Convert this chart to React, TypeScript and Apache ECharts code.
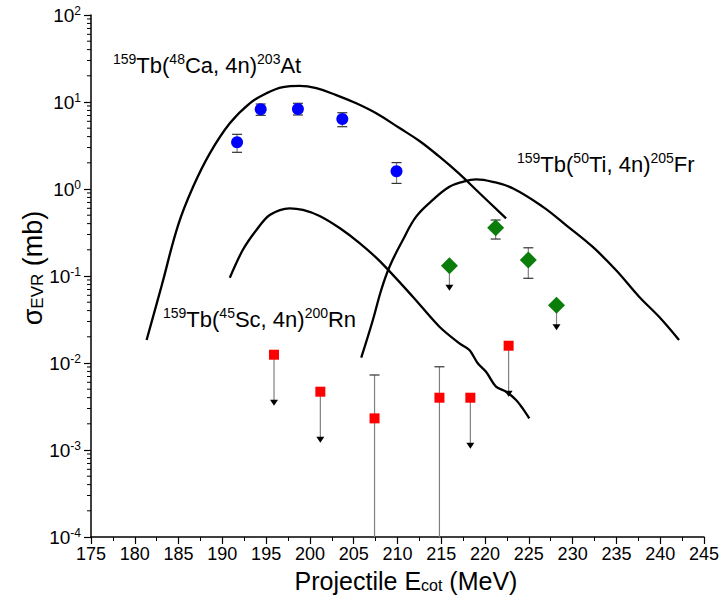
import React, { useEffect, useRef } from 'react';
import * as echarts from 'echarts';

// ---- theory curves ----
const caCurveE = [181.35, 183.09, 184.95, 186.66, 188.57, 190.85, 193.13, 195.03, 196.92, 198.83, 200.73, 203.01, 205.29, 207.57, 210.23, 212.51, 214.79, 217.07, 219.35, 222.40];
const caCurveV = [0.0184, 0.0789, 0.385, 1.06, 2.57, 5.69, 9.66, 12.6, 14.8, 15.3, 14.4, 12.0, 9.66, 7.41, 5.02, 3.56, 2.35, 1.49, 0.899, 0.460];

const scCurveE = [190.85, 192.33, 193.89, 195.41, 197.69, 199.20, 201.11, 203.39, 205.67, 207.95, 211.75, 214.79, 217.07, 218.21, 219.16, 220.11, 221.25, 222.40, 223.54, 224.29, 225.05];
const scCurveV = [0.0955, 0.199, 0.338, 0.502, 0.600, 0.574, 0.490, 0.356, 0.239, 0.149, 0.0578, 0.0261, 0.0168, 0.0141, 0.00993, 0.00794, 0.00535, 0.00468, 0.00376, 0.00301, 0.00231];

const tiCurveE = [205.86, 207.19, 208.14, 209.09, 210.61, 212.13, 214.03, 215.93, 217.45, 218.97, 220.87, 223.15, 226.57, 229.24, 232.27, 234.94, 237.59, 239.87, 242.15];
const tiCurveV = [0.0115, 0.0312, 0.0690, 0.128, 0.259, 0.481, 0.748, 1.06, 1.21, 1.29, 1.21, 1.02, 0.627, 0.385, 0.217, 0.117, 0.0578, 0.0340, 0.0184];

// ---- measured points ----
const caE = [191.68, 194.38, 198.63, 203.70, 209.89];
const caV = [3.44, 8.24, 8.31, 6.38, 1.60];
const caLow = [2.64, 7.03, 7.09, 5.20, 1.16];
const caHigh = [4.25, 9.48, 9.66, 7.53, 2.01];

const tiE = [215.93, 221.21, 224.94, 228.16];
const tiV = [0.131, 0.359, 0.153, 0.0460];
const tiErrE = [221.21, 224.94];
const tiErrLow = [0.266, 0.0941];
const tiErrHigh = [0.440, 0.211];
const tiLimitE = [215.93, 228.16];
const tiLimitV = [0.131, 0.0460];

const scE = [195.90, 201.19, 207.38, 214.79, 218.32, 222.69];
const scV = [0.01245, 0.00468, 0.00231, 0.00399, 0.00399, 0.0158];
const scErrE = [207.38, 214.79];
const scErrLow = [0.000001, 0.000001];
const scErrHigh = [0.00728, 0.00905];
const scLimitE = [195.90, 201.19, 218.32, 222.69];
const scLimitV = [0.01245, 0.00468, 0.00399, 0.0158];

const xTicks = { min: 175, max: 245, step: 5 };
const yRange = { min: 0.0001, max: 100 };

const FONT = 'Liberation Sans, Arial, sans-serif';

const zip = (a: number[], b: number[]) => a.map((v, i) => [v, b[i]]);
const zip3 = (a: number[], b: number[], c: number[]) => a.map((v, i) => [v, b[i], c[i]]);

function errorRender(params: any, api: any) {
  const x = api.value(0);
  const lo = api.value(1);
  const hi = api.value(2);
  const cs = params.coordSys;
  const bottom = cs.y + cs.height;
  const pHi = api.coord([x, hi]);
  const pLo = api.coord([x, lo]);
  const yLo = Math.min(pLo[1], bottom);
  const cw = 5;
  const children: any[] = [
    { type: 'line', shape: { x1: pHi[0], y1: pHi[1], x2: pHi[0], y2: yLo }, style: { stroke: '#808080', lineWidth: 1.2 } },
    { type: 'line', shape: { x1: pHi[0] - cw, y1: pHi[1], x2: pHi[0] + cw, y2: pHi[1] }, style: { stroke: '#333', lineWidth: 1.2 } },
  ];
  if (pLo[1] < bottom) {
    children.push({ type: 'line', shape: { x1: pLo[0] - cw, y1: pLo[1], x2: pLo[0] + cw, y2: pLo[1] }, style: { stroke: '#333', lineWidth: 1.2 } });
  }
  return { type: 'group', children };
}

function arrowRender(len: number) {
  return (params: any, api: any) => {
    const p = api.coord([api.value(0), api.value(1)]);
    const tip = p[1] + len;
    return {
      type: 'group',
      children: [
        { type: 'line', shape: { x1: p[0], y1: p[1], x2: p[0], y2: tip - 5 }, style: { stroke: '#808080', lineWidth: 1.2 } },
        { type: 'polygon', shape: { points: [[p[0] - 4, tip - 6], [p[0] + 4, tip - 6], [p[0], tip]] }, style: { fill: '#000' } },
      ],
    };
  };
}

function minorTickRender(params: any, api: any) {
  const p = api.coord([xTicks.min, api.value(1)]);
  return { type: 'line', shape: { x1: p[0] - 4, y1: p[1], x2: p[0], y2: p[1] }, style: { stroke: '#000', lineWidth: 1 } };
}

const minorTickValues: number[][] = [];
for (let k = -4; k < 2; k++) {
  for (let m = 2; m <= 9; m++) minorTickValues.push([xTicks.min, m * Math.pow(10, k)]);
}

const curveStyle = { color: '#000', width: 2.3 };

export default function App() {
  const ref = useRef<HTMLDivElement>(null);
  useEffect(() => {
    if (!ref.current) return;
    const chart = echarts.init(ref.current, undefined, { renderer: 'svg' });
    const supRich = {
      a: { fontSize: 22, fontFamily: FONT, color: '#000', lineHeight: 24, verticalAlign: 'bottom' },
      s: { fontSize: 14, fontFamily: FONT, color: '#000', lineHeight: 14, verticalAlign: 'top' },
    };
    const yTitleRich = {
      a: { fontSize: 27, fontFamily: FONT, color: '#000', lineHeight: 30, verticalAlign: 'bottom' },
      s: { fontSize: 17, fontFamily: FONT, color: '#000', lineHeight: 14, verticalAlign: 'bottom' },
    };
    const xTitleRich = {
      a: { fontSize: 25, fontFamily: FONT, color: '#000', lineHeight: 28, verticalAlign: 'bottom' },
      s: { fontSize: 16, fontFamily: FONT, color: '#000', lineHeight: 13, verticalAlign: 'bottom' },
    };
    chart.setOption({
      animation: false,
      backgroundColor: '#fff',
      grid: { left: 91, right: 17, top: 15, bottom: 64 },
      xAxis: {
        type: 'value',
        min: xTicks.min,
        max: xTicks.max,
        interval: xTicks.step,
        splitLine: { show: false },
        axisLine: { show: true, lineStyle: { color: '#000', width: 1.5 } },
        axisTick: { show: true, length: 7, lineStyle: { color: '#000', width: 1.2 } },
        minorTick: { show: true, splitNumber: 2, length: 4, lineStyle: { color: '#000', width: 1 } },
        axisLabel: { fontSize: 18, fontFamily: FONT, color: '#000', margin: 8, showMinLabel: true, showMaxLabel: true },
      },
      yAxis: {
        type: 'log',
        logBase: 10,
        min: yRange.min,
        max: yRange.max,
        splitNumber: 6,
        splitLine: { show: false },
        axisLine: { show: true, lineStyle: { color: '#000', width: 1.5 } },
        axisTick: { show: true, length: 7, lineStyle: { color: '#000', width: 1.2 } },
        axisLabel: {
          margin: 10,
          showMinLabel: true,
          showMaxLabel: true,
          formatter: (v: number) => `{b|10}{s|${Math.round(Math.log10(v))}}`,
          rich: {
            b: { fontSize: 19, fontFamily: FONT, color: '#000', lineHeight: 20, verticalAlign: 'bottom' },
            s: { fontSize: 12, fontFamily: FONT, color: '#000', lineHeight: 12, verticalAlign: 'top' },
          },
        },
      },
      graphic: [
        { type: 'text', x: 31, y: 268, rotation: Math.PI / 2, style: { text: '{a|σ}{s|EVR}{a| (mb)}', rich: yTitleRich, align: 'center', verticalAlign: 'middle' } },
        { type: 'text', x: 406, y: 579, style: { text: '{a|Projectile E}{s|cot}{a| (MeV)}', rich: xTitleRich, align: 'center', verticalAlign: 'middle' } },
        { type: 'text', x: 113, y: 76, style: { text: '{s|159}{a|Tb(}{s|48}{a|Ca, 4n)}{s|203}{a|At}', rich: supRich, align: 'left', verticalAlign: 'bottom' } },
        { type: 'text', x: 517, y: 175, style: { text: '{s|159}{a|Tb(}{s|50}{a|Ti, 4n)}{s|205}{a|Fr}', rich: supRich, align: 'left', verticalAlign: 'bottom' } },
        { type: 'text', x: 163, y: 330, style: { text: '{s|159}{a|Tb(}{s|45}{a|Sc, 4n)}{s|200}{a|Rn}', rich: supRich, align: 'left', verticalAlign: 'bottom' } },
      ],
      series: [
        { type: 'custom', name: 'minorY', renderItem: minorTickRender, data: minorTickValues, silent: true, encode: { x: 0, y: 1 } },
        { type: 'line', name: 'Ca curve', data: zip(caCurveE, caCurveV), showSymbol: false, smooth: 0.4, lineStyle: curveStyle },
        { type: 'line', name: 'Sc curve', data: zip(scCurveE, scCurveV), showSymbol: false, smooth: 0.3, lineStyle: curveStyle },
        { type: 'line', name: 'Ti curve', data: zip(tiCurveE, tiCurveV), showSymbol: false, smooth: 0.4, lineStyle: curveStyle },
        { type: 'custom', name: 'Ca err', renderItem: errorRender, data: zip3(caE, caLow, caHigh), encode: { x: 0, y: [1, 2] } },
        { type: 'custom', name: 'Ti err', renderItem: errorRender, data: zip3(tiErrE, tiErrLow, tiErrHigh), encode: { x: 0, y: [1, 2] } },
        { type: 'custom', name: 'Sc err', renderItem: errorRender, data: zip3(scErrE, scErrLow, scErrHigh), encode: { x: 0, y: [1, 2] } },
        { type: 'custom', name: 'Ti lim', renderItem: arrowRender(25), data: zip(tiLimitE, tiLimitV), encode: { x: 0, y: 1 } },
        { type: 'custom', name: 'Sc lim', renderItem: arrowRender(51), data: zip(scLimitE, scLimitV), encode: { x: 0, y: 1 } },
        { type: 'scatter', name: '203At', data: zip(caE, caV), symbol: 'circle', symbolSize: 12, itemStyle: { color: '#0000ff', opacity: 1 } },
        { type: 'scatter', name: '205Fr', data: zip(tiE, tiV), symbol: 'diamond', symbolSize: 17, itemStyle: { color: '#0a7d0a', opacity: 1 } },
        { type: 'scatter', name: '200Rn', data: zip(scE, scV), symbol: 'rect', symbolSize: 10, itemStyle: { color: '#ff0000', opacity: 1 } },
      ],
    });
    return () => chart.dispose();
  }, []);
  return <div ref={ref} style={{ position: 'fixed', left: 0, top: 0, width: 722, height: 601, background: '#fff' }} />;
}
